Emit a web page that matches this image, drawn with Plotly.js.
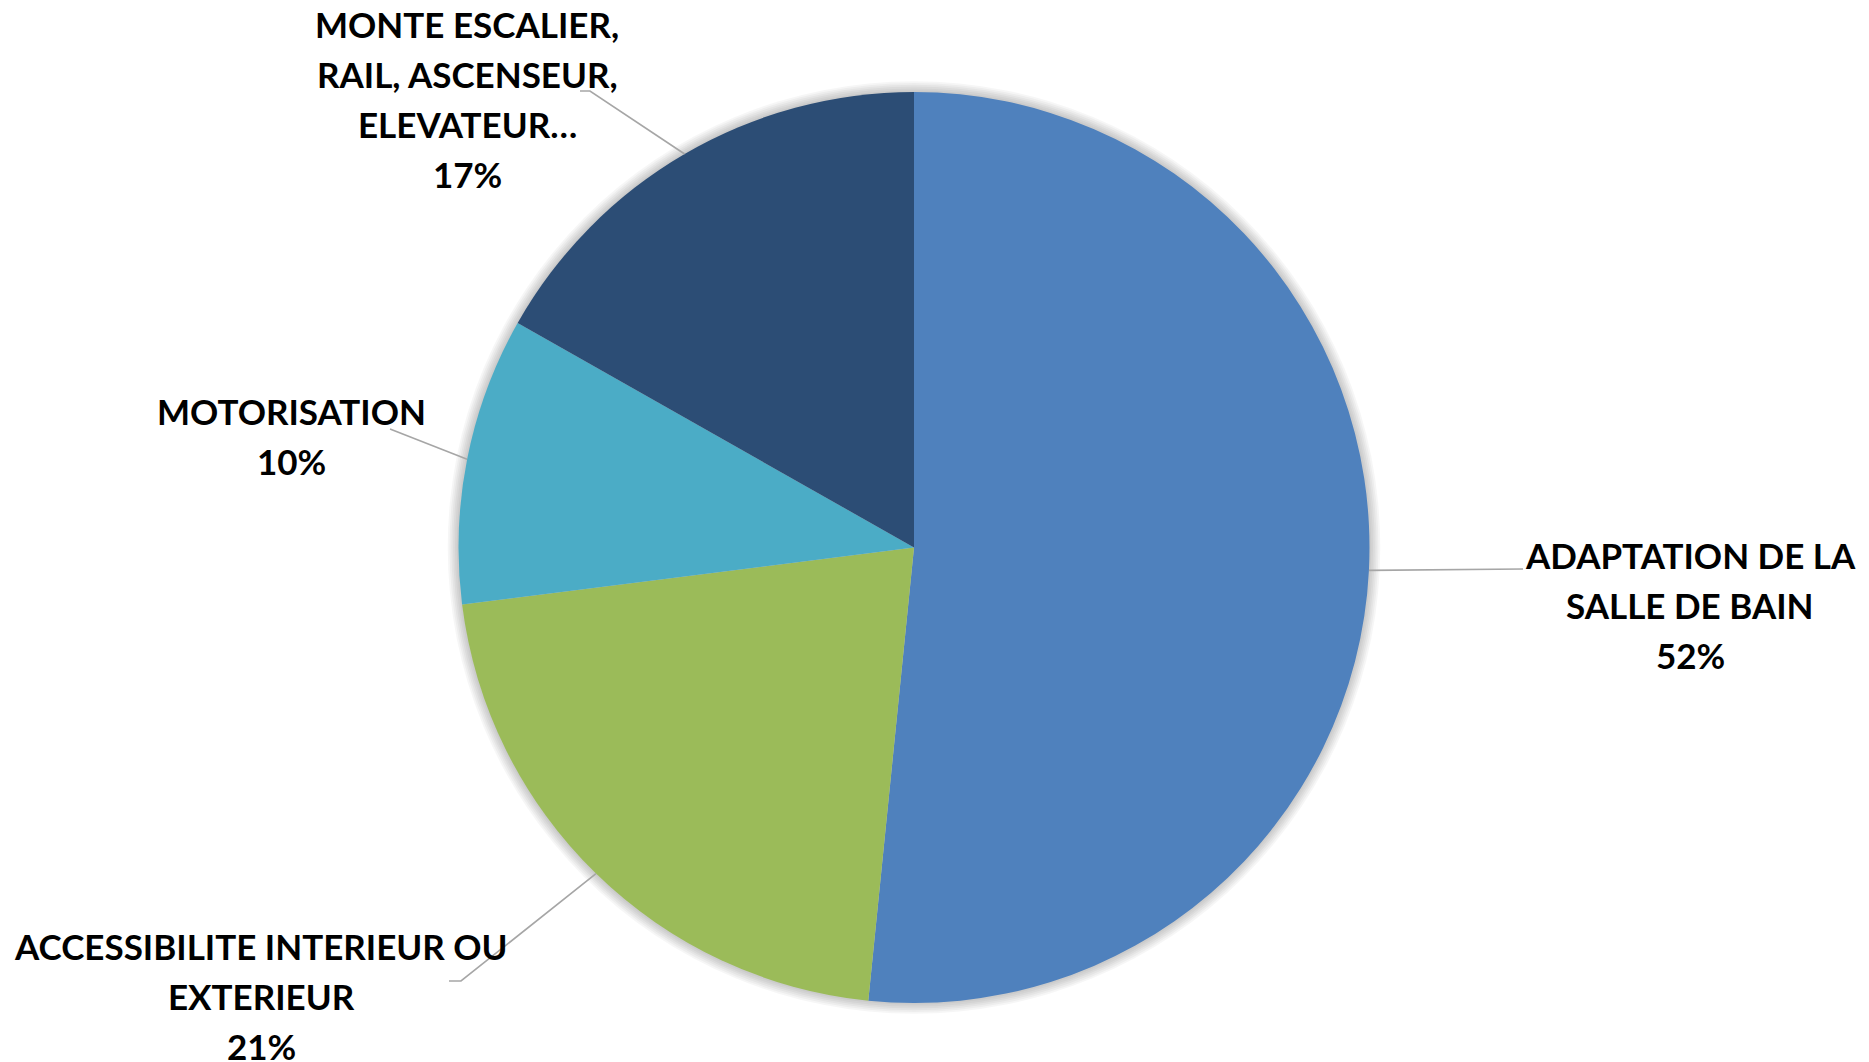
<!DOCTYPE html>
<html>
<head>
<meta charset="utf-8">
<script src="https://cdn.plot.ly/plotly-3.0.1.min.js"></script>
<style>html,body{margin:0;padding:0;background:#fff;}#chart{width:1869px;height:1062px;}</style>
</head>
<body>
<div id="chart"></div>
<script>
// ---- data ----
const categories = [
  "ADAPTATION DE LA SALLE DE BAIN",
  "ACCESSIBILITE INTERIEUR OU EXTERIEUR",
  "MOTORISATION",
  "MONTE ESCALIER, RAIL, ASCENSEUR, ELEVATEUR…"
];
const labelLines = [
  ["ADAPTATION DE LA", "SALLE DE BAIN"],
  ["ACCESSIBILITE INTERIEUR OU", "EXTERIEUR"],
  ["MOTORISATION"],
  ["MONTE ESCALIER,", "RAIL, ASCENSEUR,", "ELEVATEUR…"]
];
const values = [51.6, 21.4, 10.2, 16.8];
const colors = ["#4F81BD", "#9BBB59", "#4BACC6", "#2C4D75"];

// ---- geometry / style ----
const W = 1869, H = 1062;
const CX = 914, CY = 547.5, R = 455.5;
const LINE = 50;
const px = x => x / W;
const py = y => 1 - y / H;
// label first-line centre positions and leader-line elbow points (pixels)
const labelPos = [
  {x: 1690, y: 555, path: [[1523, 569]]},
  {x: 261,  y: 946, path: [[461, 981], [449, 981]]},
  {x: 291,  y: 411, path: [[390, 429]]},
  {x: 467,  y: 24,  path: [[590, 91], [580, 91]]}
];

const total = values.reduce((a, b) => a + b, 0);
let cum = 0;
const annotations = [], shapes = [];

// soft glow / shadow around the pie
for (let i = 6; i >= 1; i--) {
  const r = R + i * 1.8;
  shapes.push({type: 'circle', xref: 'paper', yref: 'paper', layer: 'below',
    x0: px(CX - r), x1: px(CX + r), y0: py(CY + r), y1: py(CY - r),
    fillcolor: 'rgba(0,0,0,0.035)', line: {width: 0}});
}

values.forEach((v, i) => {
  const mid = (cum + v / 2) / total * 2 * Math.PI;
  cum += v;
  const ex = CX + R * Math.sin(mid), ey = CY - R * Math.cos(mid);
  let d = `M${px(ex)},${py(ey)}`;
  labelPos[i].path.forEach(p => { d += ` L${px(p[0])},${py(p[1])}`; });
  shapes.push({type: 'path', xref: 'paper', yref: 'paper', layer: 'above', path: d,
    line: {color: '#A6A6A6', width: 1.6}});
  const lines = labelLines[i].concat([Math.round(v / total * 100) + '%']);
  lines.forEach((t, k) => {
    annotations.push({
      xref: 'paper', yref: 'paper', x: px(labelPos[i].x), y: py(labelPos[i].y + k * LINE),
      xanchor: 'center', yanchor: 'middle', showarrow: false, align: 'center',
      text: t,
      font: {family: 'Lato, "Open Sans", sans-serif', size: 35, color: '#000000', weight: 700}
    });
  });
});

const trace = {
  type: 'pie',
  labels: categories,
  values: values,
  sort: false,
  direction: 'clockwise',
  rotation: 0,
  textinfo: 'none',
  hoverinfo: 'label+percent',
  marker: {colors: colors, line: {width: 0}},
  domain: {x: [px(CX - R), px(CX + R)], y: [py(CY + R), py(CY - R)]},
  showlegend: false
};

Plotly.newPlot('chart', [trace], {
  width: W, height: H,
  margin: {l: 0, r: 0, t: 0, b: 0},
  paper_bgcolor: '#ffffff',
  showlegend: false,
  shapes: shapes,
  annotations: annotations
}, {displayModeBar: false, staticPlot: true});
</script>
</body>
</html>
